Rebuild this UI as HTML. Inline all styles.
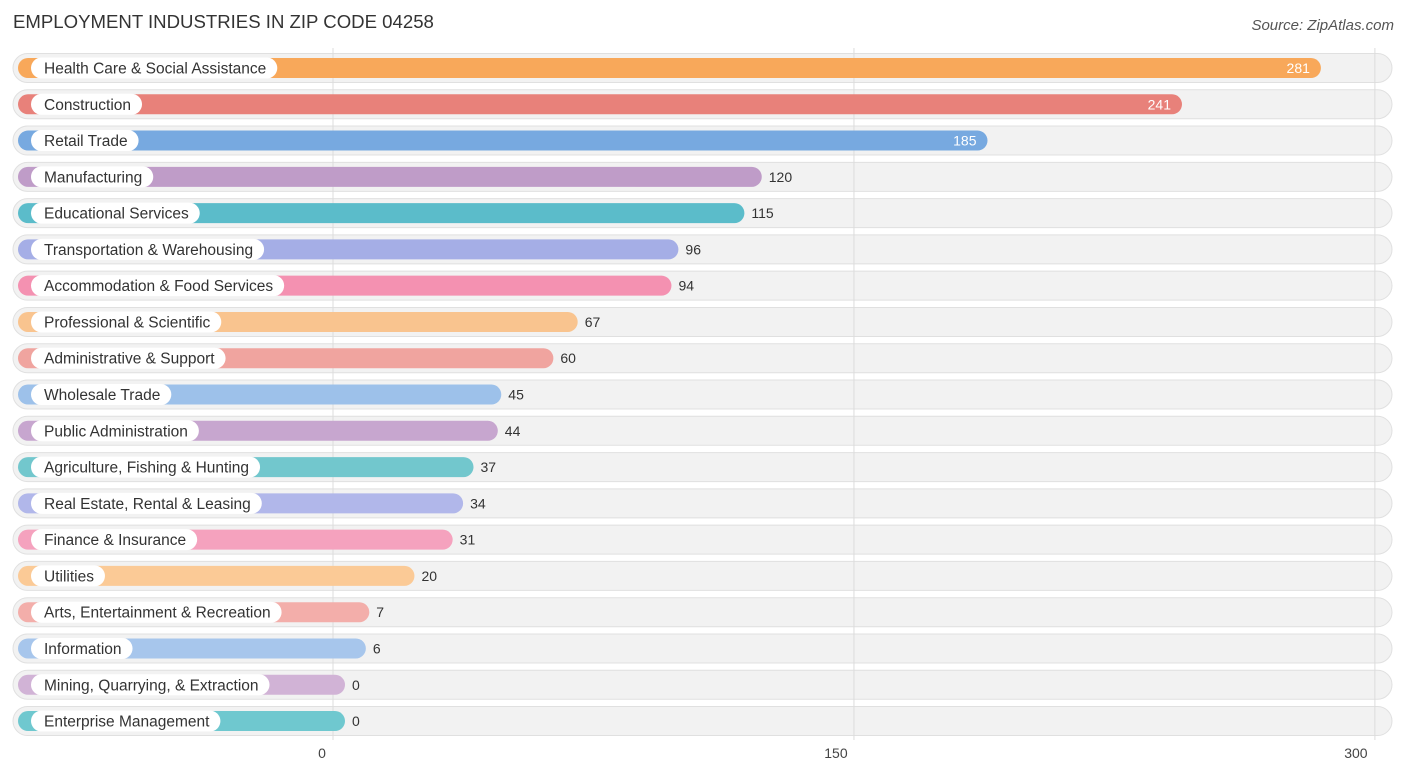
<!DOCTYPE html>
<html><head><meta charset="utf-8"><style>
body{margin:0;background:#fff;font-family:"Liberation Sans",sans-serif;}
svg text{font-family:"Liberation Sans",sans-serif;}
</style></head><body>
<svg id="c" width="1406" height="776">
<text x="13" y="28" font-size="18.6" fill="#333">EMPLOYMENT INDUSTRIES IN ZIP CODE 04258</text>
<text x="1394" y="30" font-size="15" fill="#555" font-style="italic" text-anchor="end">Source: ZipAtlas.com</text>
<g id="rows"></g><g id="grid"></g><g id="ticks"></g><g id="bars"></g>
</svg>
<script>
const categories=["Health Care & Social Assistance","Construction","Retail Trade","Manufacturing","Educational Services","Transportation & Warehousing","Accommodation & Food Services","Professional & Scientific","Administrative & Support","Wholesale Trade","Public Administration","Agriculture, Fishing & Hunting","Real Estate, Rental & Leasing","Finance & Insurance","Utilities","Arts, Entertainment & Recreation","Information","Mining, Quarrying, & Extraction","Enterprise Management"];
const values=[281,241,185,120,115,96,94,67,60,45,44,37,34,31,20,7,6,0,0];
const colors=["#f8a85a","#e8817a","#77a9e0","#bf9cc8","#5bbcca","#a5aee6","#f491b1","#f9c48f","#f0a49f","#9dc1ea","#c7a6cf","#72c7cd","#b1b7ea","#f5a2be","#fbca96","#f3aeaa","#a7c6ec","#d1b3d6","#6fc8cf"];
const tickValues=[0,150,300];
const NS="http://www.w3.org/2000/svg";
const x=v=>333+v*3.473;
const y=i=>68+i*36.28;
function mk(t,a,p){const e=document.createElementNS(NS,t);for(const k in a)e.setAttribute(k,a[k]);p.appendChild(e);return e;}
const grid=document.getElementById('grid'),rows=document.getElementById('rows'),ticks=document.getElementById('ticks'),bars=document.getElementById('bars');
categories.forEach((c,i)=>{
 const cy=y(i);
 const bg=mk('rect',{x:13,y:cy-14.5,width:1379,height:29,rx:14.5,fill:'#f2f2f2',stroke:'#e0e0e0','stroke-width':1},rows);
 
 
});
tickValues.forEach(t=>{
 const l=mk('line',{x1:x(t),x2:x(t),y1:48,y2:740,stroke:'#dcdcdc','stroke-width':1},grid);
 
 
 const off=t===0?-11:(t===150?-18:-19);
 const tx=mk('text',{x:x(t)+off,y:758,'font-size':14,fill:'#444','text-anchor':'middle'},ticks);
 tx.textContent=t;
 
 
});
categories.forEach((c,i)=>{
 const cy=y(i),v=values[i];
 const b=mk('rect',{x:18,y:cy-10,width:x(v)+12-18,height:20,rx:10,fill:colors[i]},bars);
 
 
 const p=mk('rect',{x:31,y:cy-10.5,width:100,height:21,rx:10.5,fill:'#fff'},bars);
 
 
 const t=mk('text',{x:44,y:cy+5.5,'font-size':15.5,fill:'#333'},bars);
 t.textContent=c;
 
 
 p.setAttribute('width',t.getComputedTextLength()+24);
 const inside=v>150;
 const vt=mk('text',{x:inside?x(v)+1:x(v)+19,y:cy+5,'font-size':14,fill:inside?'#fff':'#333','text-anchor':inside?'end':'start'},bars);
 vt.textContent=v;
 
 
});
</script>
</body></html>
